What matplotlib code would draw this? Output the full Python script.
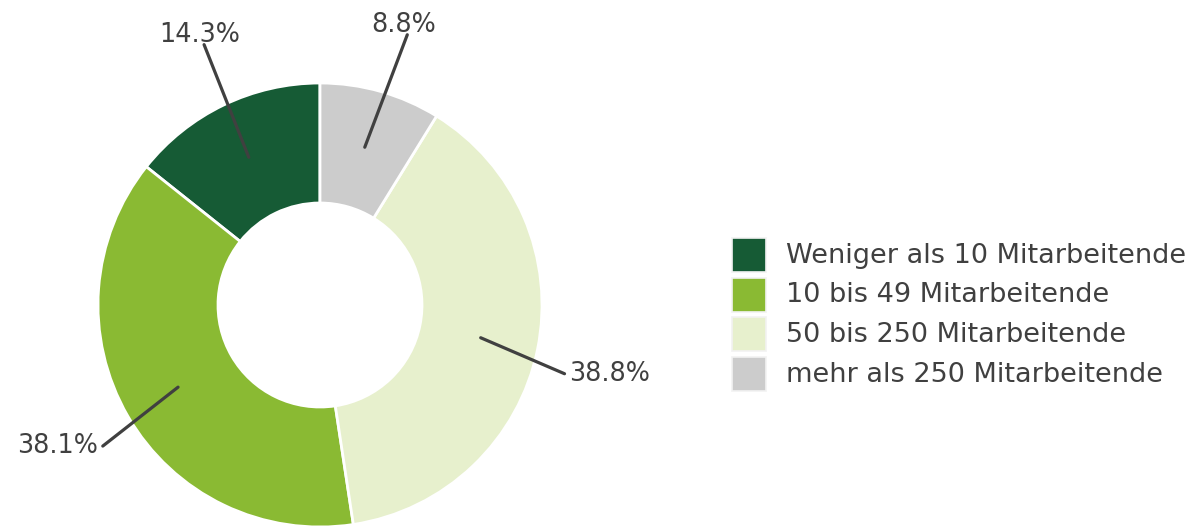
import numpy as np
import matplotlib
matplotlib.use("Agg")
import matplotlib.pyplot as plt
from matplotlib.patches import Rectangle

plt.rcParams["font.family"] = "DejaVu Sans"

# Company size shares (percent)
categories = ["Weniger als 10 Mitarbeitende", "10 bis 49 Mitarbeitende",
              "50 bis 250 Mitarbeitende", "mehr als 250 Mitarbeitende"]
shares = [14.3, 38.1, 38.8, 8.8]
labels = ["14.3%", "38.1%", "38.8%", "8.8%"]
colors = ["#165b35", "#8aba33", "#e7f0cd", "#cccccc"]

text_col = "#404040"
W, H = 1197, 527

fig = plt.figure(figsize=(W / 100, H / 100), dpi=100)
ax = fig.add_axes([0, 0, 1, 1])

cx, cy, R = 320, 222, 222
wedges, _ = ax.pie(shares, colors=colors, startangle=90, counterclock=True,
                   center=(cx, cy), radius=R, frame=True,
                   wedgeprops=dict(width=120, edgecolor="white", linewidth=2))
ax.set_xlim(0, W)
ax.set_ylim(0, H)
ax.set_aspect("equal")
ax.axis("off")

# label line ends: (radius, angle in degrees), text alignment
ends = [(285, 114.0, "center", "bottom"),
        (259, 213.0, "right", "center"),
        (254, -15.7, "left", "center"),
        (284, 72.1, "center", "bottom")]

for w, lab, (r_end, a_end, ha, va) in zip(wedges, labels, ends):
    mid = np.deg2rad((w.theta1 + w.theta2) / 2)
    x0, y0 = cx + 164 * np.cos(mid), cy + 164 * np.sin(mid)
    ae = np.deg2rad(a_end)
    x1, y1 = cx + r_end * np.cos(ae), cy + r_end * np.sin(ae)
    ax.plot([x0, x1], [y0, y1], color=text_col, lw=2.3, solid_capstyle="round")
    dx = {"left": 5, "right": -5, "center": -4}[ha]
    dy = -3 if va == "bottom" else 0
    ax.text(x1 + dx, y1 + dy, lab, ha=ha, va=va, fontsize=18.4, color=text_col)

# legend, drawn by hand so box size and row pitch match
box, pitch, top = 34, 39.5, 238
for i, (cat, c) in enumerate(zip(categories, colors)):
    y = H - top - i * pitch
    ax.add_patch(Rectangle((732, y - box), box, box, facecolor=c,
                           edgecolor="#f2f2f2", linewidth=1.2))
    ax.text(786, y - 25, cat, ha="left", va="baseline", fontsize=19.5,
            color=text_col)

fig.savefig("out.png", dpi=100)
